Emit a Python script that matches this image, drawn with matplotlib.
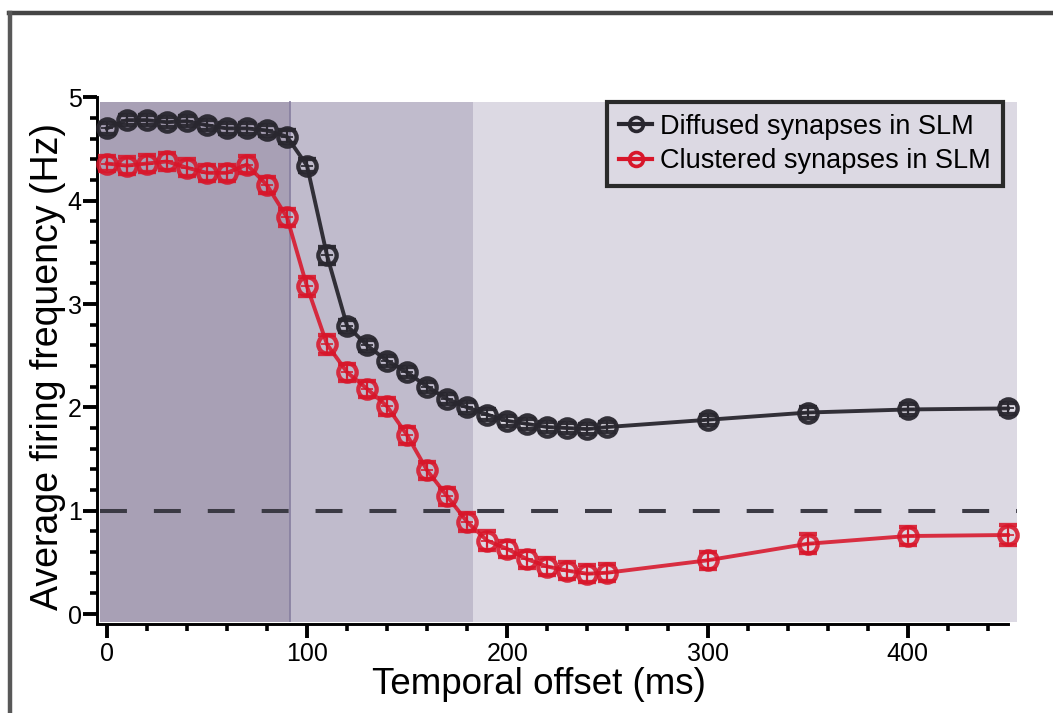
import matplotlib
matplotlib.use("Agg")
import matplotlib.pyplot as plt
from matplotlib.lines import Line2D
from matplotlib.ticker import MultipleLocator

plt.rcParams["font.family"] = ["Liberation Sans", "DejaVu Sans"]
plt.rcParams["lines.scale_dashes"] = False

# Temporal offset between input streams (ms)
offsets = [0, 10, 20, 30, 40, 50, 60, 70, 80, 90, 100, 110, 120, 130, 140,
           150, 160, 170, 180, 190, 200, 210, 220, 230, 240, 250,
           300, 350, 400, 450]

# Mean firing frequency (Hz) and SEM
diffused = [4.70, 4.78, 4.78, 4.76, 4.77, 4.73, 4.70, 4.70, 4.68, 4.62,
            4.34, 3.47, 2.79, 2.60, 2.45, 2.34, 2.20, 2.08, 2.00, 1.93,
            1.87, 1.84, 1.81, 1.80, 1.79, 1.81, 1.88, 1.95, 1.98, 1.99]
diffused_err = [0.05, 0.05, 0.05, 0.05, 0.05, 0.05, 0.05, 0.05, 0.05, 0.06,
                0.06, 0.08, 0.06, 0.05, 0.05, 0.05, 0.05, 0.05, 0.05, 0.05,
                0.05, 0.05, 0.05, 0.05, 0.05, 0.05, 0.05, 0.05, 0.05, 0.05]

clustered = [4.36, 4.34, 4.36, 4.38, 4.32, 4.27, 4.27, 4.35, 4.15, 3.84,
             3.17, 2.61, 2.34, 2.18, 2.01, 1.73, 1.39, 1.14, 0.89, 0.71,
             0.63, 0.53, 0.46, 0.42, 0.39, 0.40, 0.52, 0.68, 0.755, 0.765]
clustered_err = [0.07, 0.08, 0.08, 0.08, 0.08, 0.08, 0.08, 0.08, 0.08, 0.08,
                 0.09, 0.09, 0.08, 0.08, 0.08, 0.08, 0.08, 0.08, 0.09, 0.09,
                 0.08, 0.08, 0.08, 0.08, 0.08, 0.08, 0.08, 0.09, 0.09, 0.1]

series_labels = ["Diffused synapses in SLM", "Clustered synapses in SLM"]
window_edges = [91.5, 183]   # boundaries of the shaded timing windows (ms)
threshold = 1.0

black = "#29272f"
red = "#d8162a"
bg_dark = "#a8a0b5"
bg_mid = "#c0bbcc"
bg_light = "#dcd9e3"

W, H = 1053, 713
fig = plt.figure(figsize=(W / 100, H / 100), dpi=100)

# frame lines along the top and left edge
fig.add_artist(Line2D([9 / W, 1], [1 - 12.5 / H] * 2, color="#454545", lw=3.2))
fig.add_artist(Line2D([9.5 / W] * 2, [0, 1 - 12.5 / H], color="#585858", lw=3.2))

ax_top_px, ax_bot_px = 97.4, 622
ax = fig.add_axes([100 / W, 1 - ax_bot_px / H, 917 / W, (ax_bot_px - ax_top_px) / H])
ymin, ymax = -0.077, 5.0
ax.set_xlim(-3.35, 454.5)
ax.set_ylim(ymin, ymax)
ax.set_facecolor("none")

# shaded timing windows stop slightly below the top tick
shade_top = (4.959 - ymin) / (ymax - ymin)
xmin, xmax = ax.get_xlim()
ax.axvspan(xmin, xmax, ymax=shade_top, color=bg_light, lw=0, zorder=0)
ax.axvspan(xmin, window_edges[0], ymax=shade_top, color=bg_dark, lw=0, zorder=0)
ax.axvspan(window_edges[0], window_edges[1], ymax=shade_top, color=bg_mid, lw=0, zorder=0)
ax.axvline(window_edges[0], ymax=shade_top, color="#8a82a2", lw=1.3, zorder=0.5)

ax.axhline(threshold, color="#3b3a44", lw=2.9, linestyle=(0, (19.4, 19.4)), zorder=1)

for y, e, c, a in [(diffused, diffused_err, black, 0.95), (clustered, clustered_err, red, 0.88)]:
    ax.errorbar(offsets, y, yerr=e, color=c, alpha=a, lw=2.8, marker="o", ms=13.2,
                mfc="none", mec=c, mew=3.1, elinewidth=1.6, capsize=6.5, capthick=2.6,
                zorder=3, clip_on=False)
    ax.plot(offsets, y, ls="none", marker="+", ms=8, mew=1.3, color=c, alpha=a,
            zorder=4, clip_on=False)

# axes styling
for s in ["top", "right"]:
    ax.spines[s].set_visible(False)
ax.spines["left"].set_position(("outward", 2.2))
ax.spines["bottom"].set_position(("outward", 1.2))
ax.spines["left"].set_bounds(-0.09, 5)
ax.spines["bottom"].set_bounds(-5, 450)
for s in ["left", "bottom"]:
    ax.spines[s].set_linewidth(2.1)
    ax.spines[s].set_color("black")

ax.xaxis.set_major_locator(MultipleLocator(100))
ax.xaxis.set_minor_locator(MultipleLocator(20))
ax.yaxis.set_major_locator(MultipleLocator(1))
ax.yaxis.set_minor_locator(MultipleLocator(0.2))
ax.tick_params(which="major", direction="out", length=10, width=2.8, color="black",
               labelsize=18)
ax.tick_params(which="minor", direction="out", length=5, width=2.6, color="black")
ax.tick_params(axis="x", which="major", pad=3.5)
ax.tick_params(axis="y", which="major", pad=1)

ax_h = ax_bot_px - ax_top_px
ax.set_xlabel("Temporal offset (ms)", fontsize=26.5)
ax.xaxis.set_label_coords(0.479, -(667 - ax_bot_px) / ax_h)
ax.set_ylabel("Average firing frequency (Hz)", fontsize=27)
ax.yaxis.set_label_coords((66 - 100) / 917, (ax_bot_px - 367) / ax_h)

handles = [Line2D([], [], color=black, lw=3, marker="o", ms=10, mfc="none", mew=2.6),
           Line2D([], [], color=red, lw=3, marker="o", ms=10, mfc="none", mew=2.6)]
leg = ax.legend(handles, series_labels, loc="upper right",
                bbox_to_anchor=(1003 / W, 1 - 101.7 / H), bbox_transform=fig.transFigure,
                fontsize=19.5, frameon=True, fancybox=False, borderaxespad=0,
                handlelength=1.2, handletextpad=0.3, borderpad=0.45, labelspacing=0.3)
frame = leg.get_frame()
frame.set_facecolor(bg_light)
frame.set_edgecolor("#2a2a2a")
frame.set_linewidth(3)
frame.set_alpha(1)

fig.savefig("out.png", dpi=100)
